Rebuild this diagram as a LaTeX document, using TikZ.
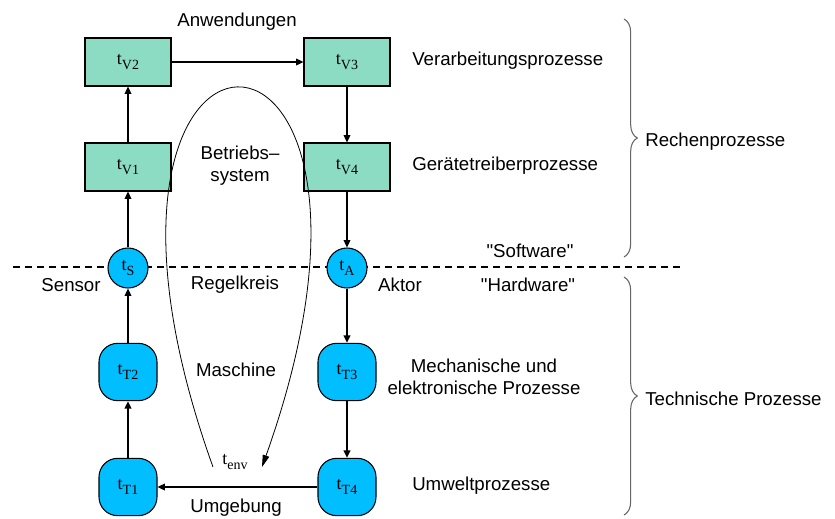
\documentclass[tikz,border=0pt]{standalone}
\usepackage{fontspec}
\setmainfont{Liberation Sans}[Ligatures=TeXOff]
\newfontfamily\timesfont{Liberation Serif}
\usetikzlibrary{arrows.meta,decorations.pathreplacing}
\definecolor{procgreen}{RGB}{140,220,196}
\definecolor{techblue}{RGB}{0,190,255}
\newcommand{\tlab}[1]{{\timesfont\fontsize{13.5}{14}\selectfont t\raisebox{-0.3em}{\fontsize{10.5}{11}\selectfont #1}}}

\begin{document}
\begin{tikzpicture}[x=0.75pt,y=-0.75pt,
    every node/.style={font=\fontsize{14}{16.5}\selectfont},
    lbl/.style={inner sep=0pt},
    rproc/.style={draw=black,line width=0.8pt,fill=procgreen,minimum width=64.5pt,minimum height=36pt,inner sep=0pt},
    iface/.style={draw=black,line width=0.8pt,fill=techblue,circle,minimum size=30pt,inner sep=0pt},
    tproc/.style={draw=black,line width=0.8pt,fill=techblue,rounded corners=14pt,minimum width=43.5pt,minimum height=43pt,inner sep=0pt},
    flow/.style={-{Triangle[length=5.5pt,width=5pt]},line width=1pt},
    grp/.style={draw=gray!80!black,line width=0.8pt,decorate,decoration={brace,amplitude=10pt}}]
        \useasboundingbox (0,0) rectangle (835,518);
        \draw [black,line width=0.8pt,dash pattern=on 5pt off 4pt] (13,267) -- (683,267);
        \node [rproc] (v2) at (128,62) {\tlab{V2}};
        \node [rproc] (v3) at (347,62) {\tlab{V3}};
        \node [rproc] (v1) at (128,167) {\tlab{V1}};
        \node [rproc] (v4) at (347,167) {\tlab{V4}};
        \node [iface] (s) at (128,268) {\tlab{S}};
        \node [iface] (a) at (347,268) {\tlab{A}};
        \node [tproc] (t2) at (128,372) {\tlab{T2}};
        \node [tproc] (t3) at (347,372) {\tlab{T3}};
        \node [tproc] (t1) at (128,487) {\tlab{T1}};
        \node [tproc] (t4) at (347,487) {\tlab{T4}};
        \draw [flow] (v2) -- (v3);
        \draw [flow] (v1) -- (v2);
        \draw [flow] (v3) -- (v4);
        \draw [flow] (v4) -- (a);
        \draw [flow] (s) -- (v1);
        \draw [flow] (t2) -- (s);
        \draw [flow] (t1) -- (t2);
        \draw [flow] (a) -- (t3);
        \draw [flow] (t3) -- (t4);
        \draw [flow] (t4) -- (t1);
        \coordinate (loopin) at (213,467);
        \coordinate (loopout) at (262,467);
        \draw [black,line width=0.6pt,-{Triangle[length=9pt,width=5pt]}] (loopin) .. controls (32,-38) and (442,-38) .. (loopout);
        \node [lbl] (env) at (235,462) {\tlab{env}};
        \node [lbl] (anw) at (237,22) {Anwendungen};
        \node [lbl,align=center] (bs) at (240,166) {Betriebs–\\system};
        \node [lbl] (rk) at (235,285) {Regelkreis};
        \node [lbl] (sen) at (71,285) {Sensor};
        \node [lbl] (akt) at (400,285) {Aktor};
        \node [lbl] (mas) at (236,370) {Maschine};
        \node [lbl] (umg) at (236,508) {Umgebung};
        \node [lbl,anchor=west] (vp) at (412,61) {Verarbeitungsprozesse};
        \node [lbl,anchor=west] (gp) at (412,166) {Gerätetreiberprozesse};
        \node [lbl] (sw) at (530,251) {"Software"};
        \node [lbl] (hw) at (528,285) {"Hardware"};
        \node [lbl,align=center] (mp) at (484,377) {Mechanische und\\elektronische Prozesse};
        \node [lbl,anchor=west] (up) at (412,486) {Umweltprozesse};
        \draw [grp] (624,19) -- (624,257);
        \draw [grp] (624,277) -- (624,515);
        \node [lbl,anchor=west] (rp) at (645,142) {Rechenprozesse};
        \node [lbl,anchor=west] (tp) at (645,399) {Technische Prozesse};
\end{tikzpicture}
\end{document}
